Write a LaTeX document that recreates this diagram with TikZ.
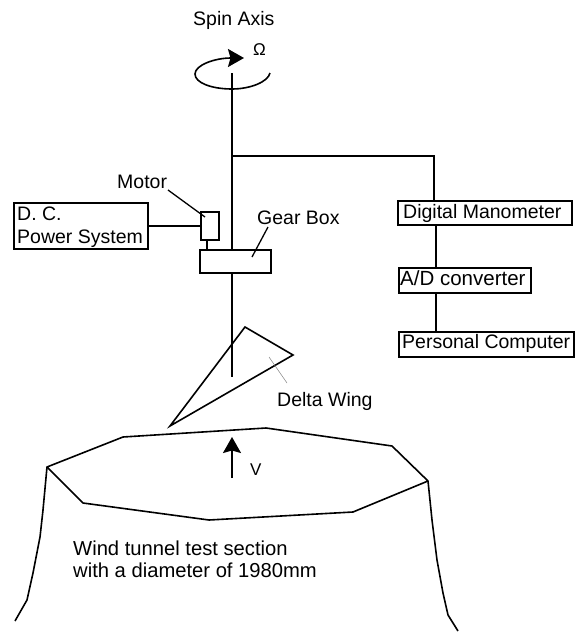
\documentclass[tikz,border=0pt]{standalone}
\usepackage{fontspec}
\setmainfont{Liberation Sans}
\usetikzlibrary{arrows.meta}
\tikzset{
  ln/.style={line width=1.6pt,black},
  boxnode/.style={draw=black,line width=1.7pt,fill=white,inner sep=0pt,anchor=north west},
  lbl/.style={inner sep=0pt,font=\fontsize{19.5}{22}\selectfont,anchor=base west,align=left},
  lblwide/.style={lbl,font=\fontsize{20.2}{22}\selectfont},
  tip/.style={-{Stealth[length=16pt,width=18pt,inset=2.5pt]}}
}
\begin{document}
\begin{tikzpicture}[x=1pt,y=-1pt]
\useasboundingbox (0,0) rectangle (574,632);
% boxes
\node[boxnode,minimum width=134pt,minimum height=46pt] (dc) at (13,202) {};
\node[boxnode,minimum width=18pt,minimum height=28pt] (motor) at (200,211) {};
\node[boxnode,minimum width=71pt,minimum height=23pt] (gear) at (199,249) {};
\node[boxnode,minimum width=174pt,minimum height=24pt] (dm) at (397,200) {};
\node[boxnode,minimum width=132pt,minimum height=25pt] (ad) at (398,267) {};
\node[boxnode,minimum width=175pt,minimum height=25pt] (pc) at (398,331) {};
% shaft and connectors
\coordinate (axistop) at (232,73);
\coordinate (branch) at (232,156);
\coordinate (corner) at (434,156);
\coordinate (shaftend) at (232,377);
\draw[ln] (axistop) -- (gear.north -| axistop);
\draw[ln] (gear.south -| axistop) -- (shaftend);
\draw[ln] (branch) -- (corner) -- (corner |- dm.north);
\draw[ln] (dm.south -| 436,0) -- (ad.north -| 436,0);
\draw[ln] (ad.south -| 436,0) -- (pc.north -| 436,0);
\draw[ln] (dc.east |- 0,226) -- (motor.west |- 0,226);
\draw[ln] (motor.south -| 207,0) -- (gear.north -| 207,0);
% rotation arrow
\coordinate (rs) at (270,73);
\coordinate (rb) at (232,89);
\coordinate (rl) at (195,74);
\coordinate (re) at (244,58);
\draw[ln,tip] (rs) .. controls (268,82) and (250,89) .. (rb)
  .. controls (212,89) and (195,83) .. (rl)
  .. controls (195,65) and (215,58) .. (re);
% leaders
\coordinate (motorl) at (168,190);
\coordinate (motorp) at (205,217);
\coordinate (gearl) at (268,227);
\coordinate (gearp) at (252,257);
\draw[line width=1.3pt] (motorl) -- (motorp);
\draw[line width=1.3pt] (gearl) -- (gearp);
% wing
\coordinate (w1) at (245,327);
\coordinate (w2) at (293,355);
\coordinate (w3) at (170,426);
\draw[ln,line join=miter] (w1) -- (w2) -- (w3) -- cycle;
\coordinate (wl1) at (269,357);
\coordinate (wl2) at (287,383);
\draw[gray,line width=0.5pt] (wl1) -- (wl2);
% tunnel
\draw[ln,line join=round] (47,467) -- (123,437) -- (266,428) -- (392,446) -- (428,481)
  -- (353,512) -- (209,520) -- (83,503) -- cycle;
\draw[ln,line join=round] (47,467) -- (43,510) -- (40,537) -- (33,573) -- (27,600) -- (15,621);
\draw[ln,line join=round] (428,481) -- (432,520) -- (437,560) -- (443,593) -- (448,615) -- (458,631);
% flow arrow
\coordinate (v1) at (232,478);
\coordinate (v2) at (232,437);
\draw[ln,tip] (v1) -- (v2);
% labels
\node[lbl] (t1) at (193,25) {Spin Axis};
\node[lbl,font=\fontsize{17}{19}\selectfont] (t2) at (253,55) {Ω};
\node[lbl] (t3) at (117,188) {Motor};
\node[lbl] (t4) at (17,220) {D. C.};
\node[lbl] (t5) at (17,243) {Power System};
\node[lbl] (t6) at (257,224) {Gear Box};
\node[lbl] (t7) at (403,218) {Digital Manometer};
\node[lbl,font=\fontsize{20.5}{22}\selectfont] (t8) at (400,285) {A/D converter};
\node[lbl] (t9) at (402,348) {Personal Computer};
\node[lbl] (t10) at (277,406) {Delta Wing};
\node[lbl,font=\fontsize{17}{19}\selectfont] (t11) at (250,475) {V};
\node[lblwide] (t12) at (73,555) {Wind tunnel test section};
\node[lblwide] (t13) at (73,577) {with a diameter of 1980mm};
\end{tikzpicture}
\end{document}
